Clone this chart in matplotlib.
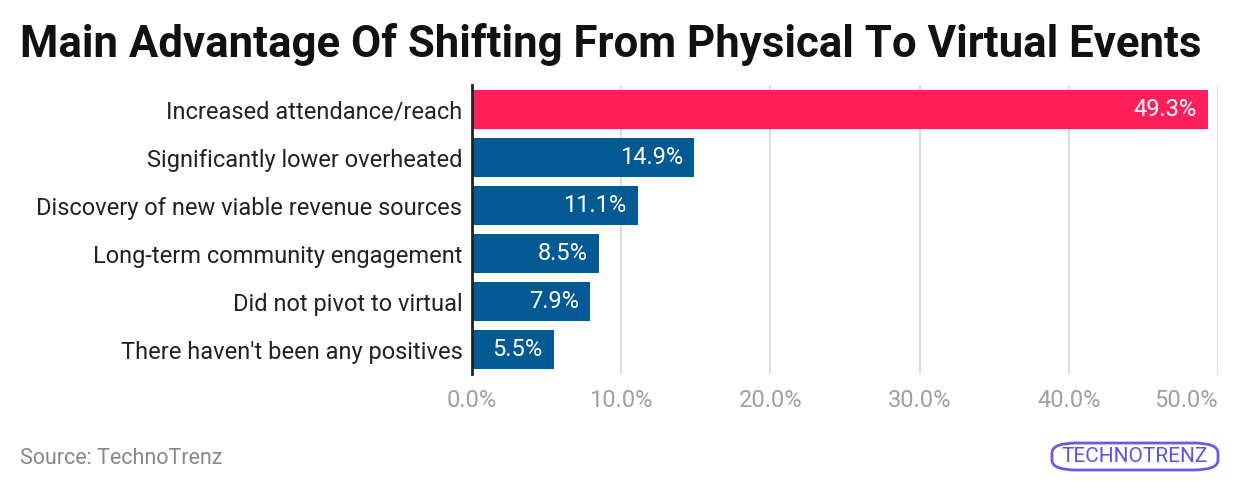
import matplotlib
matplotlib.use("Agg")
import matplotlib.pyplot as plt
from matplotlib.patches import FancyBboxPatch

categories = [
    "Increased attendance/reach",
    "Significantly lower overheated",
    "Discovery of new viable revenue sources",
    "Long-term community engagement",
    "Did not pivot to virtual",
    "There haven't been any positives",
]
values = [49.3, 14.9, 11.1, 8.5, 7.9, 5.5]
xticks = [0, 10, 20, 30, 40, 50]
xtick_labels = ["0.0%", "10.0%", "20.0%", "30.0%", "40.0%", "50.0%"]
title = "Main Advantage Of Shifting From Physical To Virtual Events"
source = "Source: TechnoTrenz"

plt.rcParams['font.family'] = ['Roboto', 'DejaVu Sans']

fig = plt.figure(figsize=(12.4, 4.92), dpi=100)
ax = fig.add_axes([472/1240, 1-374/492, (1218-472)/1240, (374-85.5)/492])

colors = ["#ff1f5a"] + ["#035a93"] * (len(values) - 1)
ypos = list(range(len(values)))
ax.barh(ypos, values, height=0.81, color=colors, zorder=3)
for y, v in zip(ypos, values):
    ax.text(v - 0.75, y, f"{v:.1f}%", color="white", ha="right", va="center",
            fontsize=17, zorder=4)

ax.set_ylim(len(values) - 0.5, -0.5)
ax.set_xlim(0, 50)
ax.set_yticks(ypos)
ax.set_yticklabels(categories, fontsize=17, color="#222222")
ax.set_xticks(xticks)
ax.set_xticklabels(xtick_labels, fontsize=17, color="#a0a0a0")
ax.get_xticklabels()[-1].set_horizontalalignment("right")
ax.tick_params(axis="both", length=0)
ax.tick_params(axis="y", pad=7)
ax.tick_params(axis="x", pad=11)
ax.grid(axis="x", color="#dddddd", linewidth=1.5, zorder=0)
for s in ["top", "right", "bottom"]:
    ax.spines[s].set_visible(False)
ax.spines["left"].set_color("#222222")
ax.spines["left"].set_linewidth(2)
ax.spines["left"].set_zorder(5)

fig.text(20/1240, 1-45/492, title, fontsize=31.5, fontweight="bold", color="#111111",
         ha="left", va="center")
fig.text(20/1240, 1-459/492, source, fontsize=15.5, color="#888888", ha="left", va="center")

# logo
box = FancyBboxPatch((1052/1240, 1-470/492), 166/1240, 27/492,
                     boxstyle="round,pad=0,rounding_size=0.02",
                     transform=fig.transFigure, facecolor="none",
                     edgecolor="#6a5ae8", linewidth=2)
fig.patches.append(box)
fig.text(1135/1240, 1-457/492, "TECHNOTRENZ", fontsize=15, color="#5a55e0",
         ha="center", va="center")

fig.savefig("out.png", dpi=100)
